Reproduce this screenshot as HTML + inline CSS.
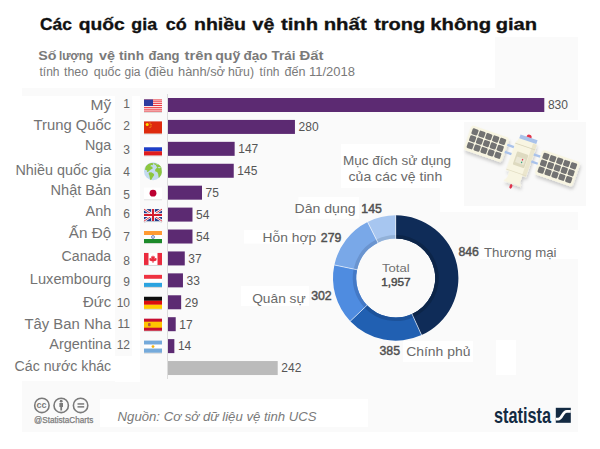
<!DOCTYPE html>
<html><head><meta charset="utf-8"><style>
html,body{margin:0;padding:0;background:#fff;}
body{width:600px;height:449px;overflow:hidden;}
svg{display:block;font-family:"Liberation Sans",sans-serif;}
.lab{font-size:14px;fill:#737373;text-anchor:end;}
.num{font-size:12px;fill:#666;text-anchor:end;}
.val{font-size:12px;fill:#555;}
.dl{font-size:13px;fill:#6a6a6a;}
.db{font-size:12.3px;fill:#505050;stroke:#505050;stroke-width:0.45px;}
</style></head><body>
<svg width="600" height="449" viewBox="0 0 600 449">
<defs>
<filter id="fsh" x="-20%" y="-20%" width="140%" height="150%"><feDropShadow dx="0" dy="0.6" stdDeviation="0.5" flood-color="#000" flood-opacity="0.25"/></filter>
<filter id="ssh" x="-30%" y="-30%" width="160%" height="160%"><feDropShadow dx="2" dy="2.5" stdDeviation="1.8" flood-color="#000" flood-opacity="0.18"/></filter>
</defs>
<rect x="22" y="88" width="556" height="344" fill="#fafafa"/>
<rect x="495" y="37" width="83" height="52" fill="#fafafa"/>
<g fill="#fff">
<rect x="0" y="96" width="115" height="285"/>
<rect x="132" y="96" width="8" height="276"/>
<rect x="115" y="356" width="25" height="26"/>
<rect x="341" y="144" width="123" height="44"/>
<rect x="298.5" y="197" width="60.5" height="21.7"/>
<rect x="244" y="230" width="72" height="13.5"/>
<rect x="440" y="120" width="150" height="92"/>
<rect x="241" y="286" width="68" height="20"/>
<rect x="403" y="341" width="70" height="21"/>
<rect x="496" y="340" width="20" height="35"/>
<rect x="480" y="230" width="98" height="29"/>
<rect x="100" y="399" width="268" height="28"/>
</g>
<rect x="464" y="122" width="122" height="84" fill="#f9f9f9"/>
<g font-size="16" font-weight="bold" fill="#111" stroke="#111" stroke-width="0.3"><text x="40.0" y="29.5" textLength="32.0" lengthAdjust="spacingAndGlyphs">Các</text><text x="78.7" y="29.5" textLength="46.0" lengthAdjust="spacingAndGlyphs">quốc</text><text x="131.3" y="29.5" textLength="25.8" lengthAdjust="spacingAndGlyphs">gia</text><text x="165.8" y="29.5" textLength="21.0" lengthAdjust="spacingAndGlyphs">có</text><text x="194.0" y="29.5" textLength="52.0" lengthAdjust="spacingAndGlyphs">nhiều</text><text x="252.5" y="29.5" textLength="21.8" lengthAdjust="spacingAndGlyphs">vệ</text><text x="281.0" y="29.5" textLength="37.0" lengthAdjust="spacingAndGlyphs">tinh</text><text x="323.7" y="29.5" textLength="43.0" lengthAdjust="spacingAndGlyphs">nhất</text><text x="374.2" y="29.5" textLength="51.0" lengthAdjust="spacingAndGlyphs">trong</text><text x="430.3" y="29.5" textLength="60.8" lengthAdjust="spacingAndGlyphs">không</text><text x="495.7" y="29.5" textLength="41.4" lengthAdjust="spacingAndGlyphs">gian</text></g>
<g font-size="12" font-weight="bold" fill="#7a7a7a"><text x="38.2" y="60" textLength="18.2" lengthAdjust="spacingAndGlyphs">Số</text><text x="59.0" y="60" textLength="34.0" lengthAdjust="spacingAndGlyphs">lượng</text><text x="99.0" y="60" textLength="16.0" lengthAdjust="spacingAndGlyphs">vệ</text><text x="119.0" y="60" textLength="25.0" lengthAdjust="spacingAndGlyphs">tinh</text><text x="148.5" y="60" textLength="31.0" lengthAdjust="spacingAndGlyphs">đang</text><text x="184.5" y="60" textLength="28.0" lengthAdjust="spacingAndGlyphs">trên</text><text x="215.2" y="60" textLength="25.2" lengthAdjust="spacingAndGlyphs">quỹ</text><text x="243.5" y="60" textLength="24.0" lengthAdjust="spacingAndGlyphs">đạo</text><text x="271.5" y="60" textLength="24.0" lengthAdjust="spacingAndGlyphs">Trái</text><text x="299.5" y="60" textLength="24.0" lengthAdjust="spacingAndGlyphs">Đất</text></g>
<g font-size="12.5" fill="#7a7a7a"><text x="39.5" y="75.5" textLength="20.0" lengthAdjust="spacingAndGlyphs">tính</text><text x="64.0" y="75.5" textLength="24.0" lengthAdjust="spacingAndGlyphs">theo</text><text x="93.8" y="75.5" textLength="26.8" lengthAdjust="spacingAndGlyphs">quốc</text><text x="124.5" y="75.5" textLength="16.0" lengthAdjust="spacingAndGlyphs">gia</text><text x="144.5" y="75.5" textLength="29.0" lengthAdjust="spacingAndGlyphs">(điều</text><text x="178.0" y="75.5" textLength="47.0" lengthAdjust="spacingAndGlyphs">hành/sở</text><text x="228.0" y="75.5" textLength="26.0" lengthAdjust="spacingAndGlyphs">hữu)</text><text x="259.5" y="75.5" textLength="20.0" lengthAdjust="spacingAndGlyphs">tính</text><text x="284.5" y="75.5" textLength="21.0" lengthAdjust="spacingAndGlyphs">đến</text><text x="309.0" y="75.5" textLength="46.0" lengthAdjust="spacingAndGlyphs">11/2018</text></g>
<line x1="167.5" y1="94" x2="167.5" y2="379" stroke="#dcdcdc" stroke-width="1"/>
<rect x="168" y="98.00" width="376.30" height="14" fill="#5c2a72"/>
<text x="547.90" y="109.30" class="val">830</text>
<rect x="168" y="119.92" width="126.94" height="14" fill="#5c2a72"/>
<text x="298.54" y="131.22" class="val">280</text>
<rect x="168" y="141.84" width="66.65" height="14" fill="#5c2a72"/>
<text x="238.25" y="153.14" class="val">147</text>
<rect x="168" y="163.76" width="65.74" height="14" fill="#5c2a72"/>
<text x="237.34" y="175.06" class="val">145</text>
<rect x="168" y="185.68" width="34.00" height="14" fill="#5c2a72"/>
<text x="205.60" y="196.98" class="val">75</text>
<rect x="168" y="207.60" width="24.48" height="14" fill="#5c2a72"/>
<text x="196.08" y="218.90" class="val">54</text>
<rect x="168" y="229.52" width="24.48" height="14" fill="#5c2a72"/>
<text x="196.08" y="240.82" class="val">54</text>
<rect x="168" y="251.44" width="16.77" height="14" fill="#5c2a72"/>
<text x="188.37" y="262.74" class="val">37</text>
<rect x="168" y="273.36" width="14.96" height="14" fill="#5c2a72"/>
<text x="186.56" y="284.66" class="val">33</text>
<rect x="168" y="295.28" width="13.15" height="14" fill="#5c2a72"/>
<text x="184.75" y="306.58" class="val">29</text>
<rect x="168" y="317.20" width="7.71" height="14" fill="#5c2a72"/>
<text x="179.31" y="328.50" class="val">17</text>
<rect x="168" y="339.12" width="6.35" height="14" fill="#5c2a72"/>
<text x="177.95" y="350.42" class="val">14</text>
<rect x="168" y="361.04" width="109.72" height="14" fill="#bbbbbb"/>
<text x="281.32" y="372.34" class="val">242</text>
<g transform="translate(144,99.50)" filter="url(#fsh)"><rect width="18" height="12" fill="#fff"/><rect y="0.000" width="18" height="0.923" fill="#e8252c"/><rect y="1.846" width="18" height="0.923" fill="#e8252c"/><rect y="3.692" width="18" height="0.923" fill="#e8252c"/><rect y="5.538" width="18" height="0.923" fill="#e8252c"/><rect y="7.385" width="18" height="0.923" fill="#e8252c"/><rect y="9.231" width="18" height="0.923" fill="#e8252c"/><rect y="11.077" width="18" height="0.923" fill="#e8252c"/><rect width="9" height="6.5" fill="#2e3a9e"/></g>
<g transform="translate(144,121.42)" filter="url(#fsh)"><rect width="18" height="12" fill="#de2910"/><circle cx="3.2" cy="3" r="1.5" fill="#ffde00"/><circle cx="6" cy="1.5" r="0.5" fill="#ffde00"/><circle cx="7" cy="3" r="0.5" fill="#ffde00"/><circle cx="7" cy="4.6" r="0.5" fill="#ffde00"/><circle cx="6" cy="5.8" r="0.5" fill="#ffde00"/></g>
<g transform="translate(144,143.34)" filter="url(#fsh)"><rect width="18" height="4" fill="#fff"/><rect y="4" width="18" height="4" fill="#1c3cc8"/><rect y="8" width="18" height="4" fill="#e01b1b"/></g>
<g transform="translate(144,165.26)"><circle cx="9" cy="6" r="9" fill="#c3daf0"/><path d="M0.94,4.31L1.92,0.88L4.37,-1.32L7.31,-2.30L9.76,-2.06L8.54,-0.10L7.07,-0.34L6.33,0.88L8.29,1.37L8.78,3.33L6.82,4.31L5.35,5.54L3.88,6.76L2.90,6.52L3.39,5.29L1.92,4.80ZM10.00,-2.30L12.70,-1.60L12.20,-0.30L10.50,-0.60ZM4.86,7.25L7.31,7.01L9.76,8.48L10.25,9.70L9.27,11.18L8.29,12.65L7.31,14.60L6.33,14.85L5.84,12.65L5.35,10.20L4.62,8.73ZM11.73,-0.34L14.18,-1.08L16.14,0.39L17.36,2.35L17.60,4.80L17.85,7.25L17.12,9.70L15.65,11.67L14.67,12.65L14.42,10.69L14.18,8.73L13.20,6.76L11.48,6.27L10.99,4.80L11.73,3.82L12.70,2.84L13.20,1.86L12.20,0.88Z" fill="#8cc63e"/><ellipse cx="15.2" cy="2.3" rx="1.6" ry="0.6" fill="#c3daf0"/></g>
<g transform="translate(144,187.18)" filter="url(#fsh)"><rect width="18" height="12" fill="#fff"/><circle cx="9" cy="6" r="3.4" fill="#bc0030"/></g>
<g transform="translate(144,209.10)" filter="url(#fsh)"><rect width="18" height="12" fill="#233c8c"/><path d="M0,0L18,12M18,0L0,12" stroke="#fff" stroke-width="2.4"/><path d="M0,0L18,12M18,0L0,12" stroke="#d21f2f" stroke-width="0.9"/><path d="M9,0V12M0,6H18" stroke="#fff" stroke-width="3.6"/><path d="M9,0V12M0,6H18" stroke="#d21f2f" stroke-width="2"/></g>
<g transform="translate(144,231.02)" filter="url(#fsh)"><rect width="18" height="4" fill="#ff9a30"/><rect y="4" width="18" height="4" fill="#fff"/><rect y="8" width="18" height="4" fill="#1e8a2a"/><circle cx="9" cy="6" r="1.5" fill="none" stroke="#5b6db8" stroke-width="0.8"/><circle cx="9" cy="6" r="0.6" fill="#5b6db8"/></g>
<g transform="translate(144,252.94)" filter="url(#fsh)"><rect width="18" height="12" fill="#fff"/><rect width="4.5" height="12" fill="#ea2a3c"/><rect x="13.5" width="4.5" height="12" fill="#ea2a3c"/><path d="M9,2.2L9.8,3.8L11,3.4L10.5,5.8L12,4.8L12.3,5.8L13,5.6L12.2,7.2L12.6,7.6L9.4,8.6V10H8.6V8.6L5.4,7.6L5.8,7.2L5,5.6L5.7,5.8L6,4.8L7.5,5.8L7,3.4L8.2,3.8Z" fill="#ea2a3c"/></g>
<g transform="translate(144,274.86)" filter="url(#fsh)"><rect width="18" height="4" fill="#ef3340"/><rect y="4" width="18" height="4" fill="#fff"/><rect y="8" width="18" height="4" fill="#2aa3e0"/></g>
<g transform="translate(144,296.78)" filter="url(#fsh)"><rect width="18" height="4" fill="#111"/><rect y="4" width="18" height="4" fill="#dd1010"/><rect y="8" width="18" height="4" fill="#ffcc00"/></g>
<g transform="translate(144,318.70)" filter="url(#fsh)"><rect width="18" height="12" fill="#c8102e"/><rect y="3" width="18" height="6" fill="#ffc400"/><rect x="4" y="4.2" width="2.6" height="3.4" rx="0.8" fill="#b5593a"/></g>
<g transform="translate(144,340.62)" filter="url(#fsh)"><rect width="18" height="4" fill="#75aadb"/><rect y="4" width="18" height="4" fill="#fff"/><rect y="8" width="18" height="4" fill="#75aadb"/><circle cx="9" cy="6" r="1.4" fill="#f6b40e"/></g>
<text x="111.2" y="109.5" class="lab" textLength="20.7" lengthAdjust="spacingAndGlyphs">Mỹ</text>
<text x="111.2" y="129.6" class="lab" textLength="77.6" lengthAdjust="spacingAndGlyphs">Trung Quốc</text>
<text x="111.2" y="149.7" class="lab" textLength="26.3" lengthAdjust="spacingAndGlyphs">Nga</text>
<text x="111.2" y="175.1" class="lab" textLength="95.7" lengthAdjust="spacingAndGlyphs">Nhiều quốc gia</text>
<text x="111.2" y="195.2" class="lab" textLength="60.6" lengthAdjust="spacingAndGlyphs">Nhật Bản</text>
<text x="111.2" y="215.6" class="lab" textLength="25.7" lengthAdjust="spacingAndGlyphs">Anh</text>
<text x="111.2" y="238.3" class="lab" textLength="42.4" lengthAdjust="spacingAndGlyphs">Ấn Độ</text>
<text x="111.2" y="260.6" class="lab" textLength="49.6" lengthAdjust="spacingAndGlyphs">Canada</text>
<text x="111.2" y="284" class="lab" textLength="81.4" lengthAdjust="spacingAndGlyphs">Luxembourg</text>
<text x="111.2" y="306.5" class="lab" textLength="28.3" lengthAdjust="spacingAndGlyphs">Đức</text>
<text x="111.2" y="328.9" class="lab" textLength="86.8" lengthAdjust="spacingAndGlyphs">Tây Ban Nha</text>
<text x="111.2" y="348.8" class="lab" textLength="61.9" lengthAdjust="spacingAndGlyphs">Argentina</text>
<text x="111.2" y="370.6" class="lab" textLength="96.6" lengthAdjust="spacingAndGlyphs">Các nước khác</text>
<text x="130" y="107.8" class="num">1</text>
<text x="130" y="129.8" class="num">2</text>
<text x="130" y="154.1" class="num">3</text>
<text x="130" y="176" class="num">4</text>
<text x="130" y="198.8" class="num">5</text>
<text x="130" y="218.1" class="num">6</text>
<text x="130" y="240.6" class="num">7</text>
<text x="130" y="264.5" class="num">8</text>
<text x="130" y="285.5" class="num">9</text>
<text x="130" y="306.8" class="num">10</text>
<text x="130" y="328.3" class="num">11</text>
<text x="130" y="348.7" class="num">12</text>
<path d="M395.70,215.30A62.7,62.7 0 0 1 421.58,335.11L412.00,313.98A39.5,39.5 0 0 0 395.70,238.50Z" fill="#0f2c58"/>
<path d="M395.70,235.00A43.0,43.0 0 0 1 413.45,317.17L412.00,313.98A39.5,39.5 0 0 0 395.70,238.50Z" fill="#0c2549"/>
<path d="M421.58,335.11A62.7,62.7 0 0 1 350.26,321.20L367.07,305.22A39.5,39.5 0 0 0 412.00,313.98Z" fill="#2160b2"/>
<path d="M413.45,317.17A43.0,43.0 0 0 1 364.54,307.63L367.07,305.22A39.5,39.5 0 0 0 412.00,313.98Z" fill="#1c529a"/>
<path d="M350.26,321.20A62.7,62.7 0 0 1 334.37,264.96L357.06,269.79A39.5,39.5 0 0 0 367.07,305.22Z" fill="#4f8ce0"/>
<path d="M364.54,307.63A43.0,43.0 0 0 1 353.64,269.06L357.06,269.79A39.5,39.5 0 0 0 367.07,305.22Z" fill="#4479c6"/>
<path d="M334.37,264.96A62.7,62.7 0 0 1 367.55,221.97L377.97,242.70A39.5,39.5 0 0 0 357.06,269.79Z" fill="#79a8e8"/>
<path d="M353.64,269.06A43.0,43.0 0 0 1 376.40,239.58L377.97,242.70A39.5,39.5 0 0 0 357.06,269.79Z" fill="#6a94cf"/>
<path d="M367.55,221.97A62.7,62.7 0 0 1 395.70,215.30L395.70,238.50A39.5,39.5 0 0 0 377.97,242.70Z" fill="#a7c6f0"/>
<path d="M376.40,239.58A43.0,43.0 0 0 1 395.70,235.00L395.70,238.50A39.5,39.5 0 0 0 377.97,242.70Z" fill="#92b1d8"/>
<line x1="395.70" y1="239.00" x2="395.70" y2="214.80" stroke="#fff" stroke-width="0.7" stroke-opacity="0.85"/>
<line x1="411.79" y1="313.52" x2="421.78" y2="335.57" stroke="#fff" stroke-width="0.7" stroke-opacity="0.85"/>
<line x1="367.43" y1="304.87" x2="349.90" y2="321.55" stroke="#fff" stroke-width="0.7" stroke-opacity="0.85"/>
<line x1="357.55" y1="269.89" x2="333.88" y2="264.86" stroke="#fff" stroke-width="0.7" stroke-opacity="0.85"/>
<line x1="378.19" y1="243.15" x2="367.33" y2="221.53" stroke="#fff" stroke-width="0.7" stroke-opacity="0.85"/>

<text x="396" y="232" class="dl" text-anchor="middle"></text>
<text x="343" y="165" class="dl" textLength="108" lengthAdjust="spacingAndGlyphs">Mục đích sử dụng</text>
<text x="348.6" y="180.8" class="dl" textLength="93.6" lengthAdjust="spacingAndGlyphs">của các vệ tinh</text>
<text x="382" y="272.4" font-size="11.6" fill="#707070" textLength="27.6" lengthAdjust="spacingAndGlyphs">Total</text>
<text x="381.2" y="285.7" font-size="11.8" fill="#4a4a4a" stroke="#4a4a4a" stroke-width="0.45" textLength="29.5" lengthAdjust="spacingAndGlyphs">1,957</text>
<text x="294.6" y="213" class="dl" textLength="61" lengthAdjust="spacingAndGlyphs">Dân dụng</text><text x="361.3" y="213" class="db">145</text>
<text x="262.6" y="242" class="dl" textLength="53.5" lengthAdjust="spacingAndGlyphs">Hỗn hợp</text><text x="320.8" y="242" class="db">279</text>
<text x="252.2" y="302.5" class="dl" textLength="53.5" lengthAdjust="spacingAndGlyphs">Quân sự</text><text x="311.2" y="300.3" class="db">302</text>
<text x="379.5" y="354.8" class="db">385</text><text x="406.2" y="355.5" class="dl" textLength="64.3" lengthAdjust="spacingAndGlyphs">Chính phủ</text>
<text x="458.4" y="256" class="db">846</text><text x="484" y="256.6" class="dl" textLength="72.5" lengthAdjust="spacingAndGlyphs">Thương mại</text>

<g transform="translate(521.9,156) rotate(19)">
 <g filter="url(#ssh)">
  <rect x="-57.5" y="-13" width="40" height="26" rx="3" fill="#f8f5e2"/>
  <rect x="17.5" y="-13" width="40" height="26" rx="3" fill="#f8f5e2"/>
  <path d="M-8,-16.5H9.5L10.5,-10.5V18.5H-10.5V-10.5Z" fill="#f8f5e2"/>
  <rect x="-7" y="18" width="14" height="6" fill="#f8f5e2"/>
  <path d="M-6.5,23C-7,26 -9,28 -9.5,29.5H9C8.5,28 6.5,26 6.5,23Z" fill="#f8f5e2"/>
 </g>
 <rect x="-55.30" y="-10.60" width="6.2" height="6.2" rx="1.1" fill="#727272"/>
 <rect x="-48.00" y="-10.60" width="6.2" height="6.2" rx="1.1" fill="#727272"/>
 <rect x="-40.70" y="-10.60" width="6.2" height="6.2" rx="1.1" fill="#727272"/>
 <rect x="-33.40" y="-10.60" width="6.2" height="6.2" rx="1.1" fill="#727272"/>
 <rect x="-26.10" y="-10.60" width="6.2" height="6.2" rx="1.1" fill="#727272"/>
 <rect x="-55.30" y="-3.30" width="6.2" height="6.2" rx="1.1" fill="#727272"/>
 <rect x="-48.00" y="-3.30" width="6.2" height="6.2" rx="1.1" fill="#727272"/>
 <rect x="-40.70" y="-3.30" width="6.2" height="6.2" rx="1.1" fill="#727272"/>
 <rect x="-33.40" y="-3.30" width="6.2" height="6.2" rx="1.1" fill="#727272"/>
 <rect x="-26.10" y="-3.30" width="6.2" height="6.2" rx="1.1" fill="#727272"/>
 <rect x="-55.30" y="4.00" width="6.2" height="6.2" rx="1.1" fill="#727272"/>
 <rect x="-48.00" y="4.00" width="6.2" height="6.2" rx="1.1" fill="#727272"/>
 <rect x="-40.70" y="4.00" width="6.2" height="6.2" rx="1.1" fill="#727272"/>
 <rect x="-33.40" y="4.00" width="6.2" height="6.2" rx="1.1" fill="#727272"/>
 <rect x="-26.10" y="4.00" width="6.2" height="6.2" rx="1.1" fill="#727272"/>
 <rect x="19.70" y="-10.60" width="6.2" height="6.2" rx="1.1" fill="#727272"/>
 <rect x="27.00" y="-10.60" width="6.2" height="6.2" rx="1.1" fill="#727272"/>
 <rect x="34.30" y="-10.60" width="6.2" height="6.2" rx="1.1" fill="#727272"/>
 <rect x="41.60" y="-10.60" width="6.2" height="6.2" rx="1.1" fill="#727272"/>
 <rect x="48.90" y="-10.60" width="6.2" height="6.2" rx="1.1" fill="#727272"/>
 <rect x="19.70" y="-3.30" width="6.2" height="6.2" rx="1.1" fill="#727272"/>
 <rect x="27.00" y="-3.30" width="6.2" height="6.2" rx="1.1" fill="#727272"/>
 <rect x="34.30" y="-3.30" width="6.2" height="6.2" rx="1.1" fill="#727272"/>
 <rect x="41.60" y="-3.30" width="6.2" height="6.2" rx="1.1" fill="#727272"/>
 <rect x="48.90" y="-3.30" width="6.2" height="6.2" rx="1.1" fill="#727272"/>
 <rect x="19.70" y="4.00" width="6.2" height="6.2" rx="1.1" fill="#727272"/>
 <rect x="27.00" y="4.00" width="6.2" height="6.2" rx="1.1" fill="#727272"/>
 <rect x="34.30" y="4.00" width="6.2" height="6.2" rx="1.1" fill="#727272"/>
 <rect x="41.60" y="4.00" width="6.2" height="6.2" rx="1.1" fill="#727272"/>
 <rect x="48.90" y="4.00" width="6.2" height="6.2" rx="1.1" fill="#727272"/>
 <rect x="-17.5" y="-7" width="7" height="2.3" fill="#a9c2ea"/>
 <rect x="-17.5" y="0.5" width="7" height="2.3" fill="#a9c2ea"/>
 <rect x="10.5" y="-6.5" width="7" height="2.3" fill="#a9c2ea"/>
 <rect x="10.5" y="1" width="7" height="2.3" fill="#a9c2ea"/>
 <rect x="6.5" y="-15.5" width="4" height="34" fill="#ebe6cd"/>
 <rect x="-10.5" y="-10.5" width="21" height="0.8" fill="#d9d4ba"/>
 <rect x="-10.5" y="17" width="21" height="0.8" fill="#e2ddc3"/>
 <rect x="-6" y="-3" width="12" height="14" rx="1" fill="#dedac0"/>
 <rect x="-4.5" y="2" width="9" height="6" fill="#ebe8d6"/>
 <rect x="1.2" y="2.5" width="1.2" height="1.6" fill="#e0334a"/>
 <rect x="1.2" y="5.3" width="1.2" height="1.6" fill="#3aa37a"/>
 <rect x="-8.3" y="-20" width="18" height="4" fill="#a9c2ea"/>
 <path d="M-2,-20A2.6,2.6 0 0 1 3.2,-20Z" fill="#e0334a"/>
 <ellipse cx="-0.5" cy="32.3" rx="1.4" ry="2.3" fill="#e0334a"/>
</g>
<g fill="none" stroke="#7a7a7a" stroke-width="1.6">
<circle cx="41.9" cy="405.4" r="7.2"/><circle cx="61.2" cy="405.4" r="7.2"/><circle cx="80.6" cy="405.4" r="7.2"/>
</g>
<text x="36.6" y="408.2" font-size="9.5" font-weight="bold" fill="#7a7a7a" textLength="10" lengthAdjust="spacingAndGlyphs">cc</text>
<circle cx="61.2" cy="401.2" r="1.4" fill="#7a7a7a"/>
<path d="M59.4,403H63V407H62.1V410.4H60.3V407H59.4Z" fill="#7a7a7a"/>
<rect x="77.5" y="403.2" width="6.7" height="1.5" fill="#7a7a7a"/><rect x="77.5" y="406.1" width="6.7" height="1.5" fill="#7a7a7a"/>
<text x="34" y="422.6" font-size="8.3" fill="#7c7c7c" stroke="#7c7c7c" stroke-width="0.25" textLength="59.3" lengthAdjust="spacingAndGlyphs">@StatistaCharts</text>
<text x="117.6" y="421" font-size="12" font-style="italic" fill="#7a7a7a" textLength="199" lengthAdjust="spacingAndGlyphs">Nguồn: Cơ sở dữ liệu vệ tinh UCS</text>
<text x="494" y="422.5" font-size="22" font-weight="bold" fill="#132a42" textLength="57" lengthAdjust="spacingAndGlyphs">statista</text>
<rect x="555.8" y="407.8" width="15" height="15" fill="#132a42"/>
<path d="M555.8,419.1H558.3C562.3,419.1 562.3,411.4 566.8,411.4H570.8" stroke="#fff" stroke-width="2.8" fill="none"/>
</svg>
</body></html>
